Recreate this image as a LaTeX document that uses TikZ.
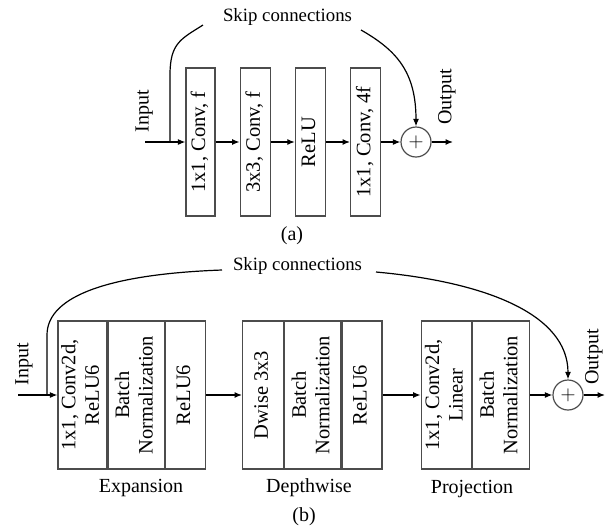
\documentclass[tikz,border=0pt]{standalone}
\usepackage{fontspec}
\setmainfont{Liberation Serif}
\usepackage{graphicx}
\usepackage{tikz}
\usetikzlibrary{shapes,arrows.meta,positioning}

\newcommand{\vtext}[1]{\rotatebox{90}{\begin{tabular}{@{}c@{}}#1\end{tabular}}}
\tikzset{
  blk/.style={draw=black!70, line width=1.2pt, minimum height=148pt, inner sep=0pt,
              font=\fontsize{20.5}{23.5}\selectfont},
  add/.style={draw=black!70, circle, line width=1.2pt, minimum size=30pt, inner sep=0pt,
              font=\fontsize{20}{20}\selectfont},
  lbl/.style={font=\fontsize{20}{22}\selectfont, inner sep=0pt},
  skiplbl/.style={font=\fontsize{18.8}{20}\selectfont, inner sep=0pt},
  flow/.style={line width=1.2pt, -{Latex[length=7.5pt,width=6pt]}},
}

\begin{document}
\begin{tikzpicture}[x=1pt,y=-1pt]
                \useasboundingbox (0,0) rectangle (613,531);
                % (a) bottleneck block
                \node[blk, minimum width=29pt] (c1) at (200.5,142) {\vtext{1x1, Conv, f}};
                \node[blk, minimum width=30pt, right=24pt of c1] (c2) {\vtext{3x3, Conv, f}};
                \node[blk, minimum width=30pt, right=24pt of c2] (c3) {\vtext{ReLU}};
                \node[blk, minimum width=30pt, right=24pt of c3] (c4) {\vtext{1x1, Conv, 4f}};
                \node[add] (suma) at (416,142) {$+$};
                \coordinate (ina) at (145,142);
                \coordinate (ja) at (170,142);
                \coordinate (outa) at (453,142);
                \node[skiplbl] (skipa) at (287.5,17) {Skip connections};
                \coordinate (sa1) at (203,25);
                \coordinate (sa2) at (361,30);
                \node[lbl, rotate=90, anchor=south] at (153,111) {Input};
                \node[lbl, rotate=90] at (447,97) {Output};
                \node[lbl] (capa) at (292,236) {(a)};

                % arrows
                \draw[flow] (ina) -- (c1);
                \draw[flow] (c1) -- (c2);
                \draw[flow] (c2) -- (c3);
                \draw[flow] (c3) -- (c4);
                \draw[flow] (c4) -- (suma);
                \draw[flow] (suma) -- (outa);
                % skip connection
                \draw[line width=1.2pt] (ja) -- ++(0,-67) .. controls +(0,-32) and +(-22,14) .. (sa1);
                \draw[flow] (sa2) .. controls +(35,20) and +(0,-55) .. (suma.north);

                % (b) inverted residual block
                \node[blk, minimum width=49pt] (e1) at (82.5,395) {\vtext{1x1, Conv2d,\\ReLU6}};
                \node[blk, minimum width=56pt, right=0pt of e1] (e2) {\vtext{Batch\\Normalization}};
                \node[blk, minimum width=40pt, right=0pt of e2] (e3) {\vtext{ReLU6}};
                \node[blk, minimum width=41pt, right=36pt of e3] (d1) {\vtext{Dwise 3x3}};
                \node[blk, minimum width=56pt, right=0pt of d1] (d2) {\vtext{Batch\\Normalization}};
                \node[blk, minimum width=40pt, right=0pt of d2] (d3) {\vtext{ReLU6}};
                \node[blk, minimum width=50pt, right=38pt of d3] (p1) {\vtext{1x1, Conv2d,\\Linear}};
                \node[blk, minimum width=57pt, right=0pt of p1] (p2) {\vtext{Batch\\Normalization}};
                \node[add] (sumb) at (568,395) {$+$};
                \coordinate (inb) at (18,395);
                \coordinate (jb) at (47,395);
                \coordinate (outb) at (605,395);
                \node[skiplbl] (skipb) at (297.5,266) {Skip connections};
                \coordinate (sb1) at (222,270);
                \coordinate (sb2) at (376,272);
                \node[lbl, rotate=90] at (24,364) {Input};
                \node[lbl, rotate=90] at (594,357) {Output};
                \node[lbl] (expl) at (141,488) {Expansion};
                \node[lbl] (depl) at (309,488) {Depthwise};
                \node[lbl] (prol) at (472,489) {Projection};
                \node[lbl] (capb) at (304,517) {(b)};

                % arrows
                \draw[flow] (inb) -- (e1);
                \draw[flow] (e3) -- (d1);
                \draw[flow] (d3) -- (p1);
                \draw[flow] (p2) -- (sumb);
                \draw[flow] (sumb) -- (outb);
                % skip connection
                \draw[line width=1.2pt] (jb) -- ++(0,-60) .. controls +(0,-40) and +(-110,4) .. (sb1);
                \draw[flow] (sb2) .. controls +(110,10) and +(0,-65) .. (sumb.north);
\end{tikzpicture}
\end{document}
